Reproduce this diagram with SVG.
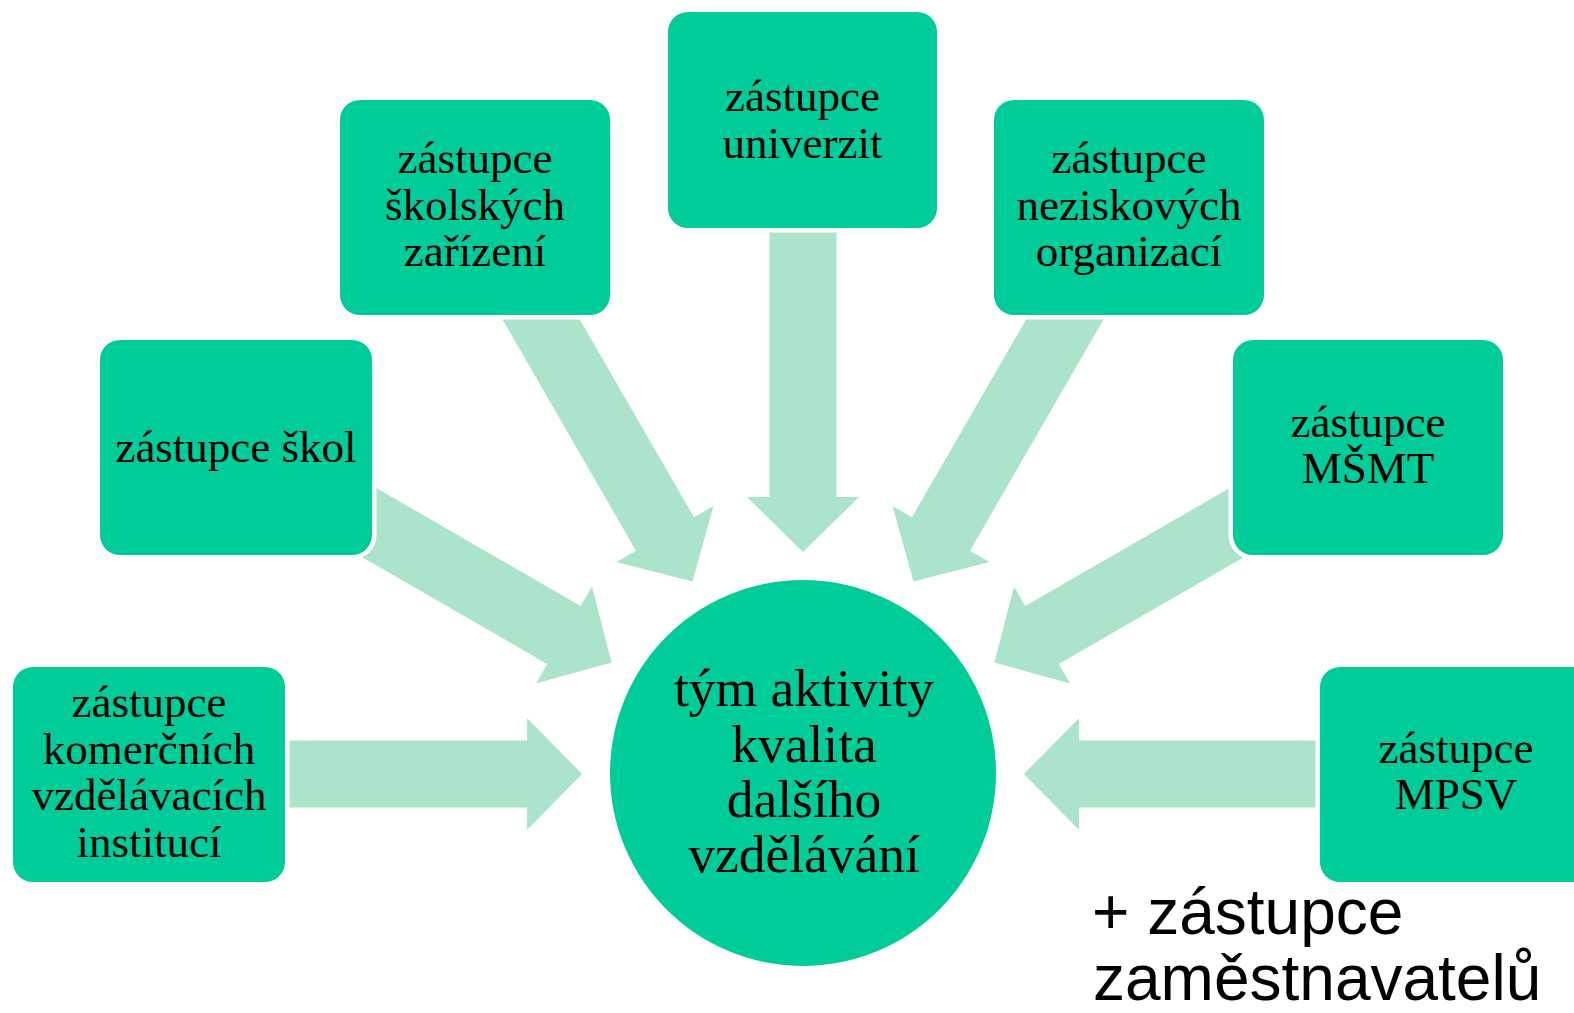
<svg xmlns="http://www.w3.org/2000/svg" width="1574" height="1013" viewBox="0 0 1574 1013">
<style>
.box{fill:#00CC99;stroke:#ffffff;stroke-width:9;paint-order:stroke}
.arr{fill:#ACE3CB}
.t{font-family:"Liberation Serif","Times New Roman",serif;font-size:45px;fill:#000;text-anchor:middle}
.tc{font-family:"Liberation Serif","Times New Roman",serif;font-size:53.5px;fill:#000;text-anchor:middle}
.ts{font-family:"Liberation Sans",Arial,sans-serif;font-size:64px;fill:#000}
</style>
<rect width="1574" height="1013" fill="#ffffff"/>
<g id="connectors">
<path class="arr" transform="translate(582,774) rotate(0)" d="M0,0 L-55,-56 L-55,-33.5 L-300,-33.5 L-300,33.5 L-55,33.5 L-55,56 Z"/>
<path class="arr" transform="translate(611.6,662.5) rotate(30)" d="M0,0 L-55,-56 L-55,-33.5 L-320,-33.5 L-320,33.5 L-55,33.5 L-55,56 Z"/>
<path class="arr" transform="translate(692.5,581.6) rotate(60)" d="M0,0 L-55,-56 L-55,-33.5 L-340,-33.5 L-340,33.5 L-55,33.5 L-55,56 Z"/>
<path class="arr" transform="translate(803,552) rotate(90)" d="M0,0 L-55,-56 L-55,-33.5 L-330,-33.5 L-330,33.5 L-55,33.5 L-55,56 Z"/>
<path class="arr" transform="translate(913.5,581.6) rotate(120)" d="M0,0 L-55,-56 L-55,-33.5 L-340,-33.5 L-340,33.5 L-55,33.5 L-55,56 Z"/>
<path class="arr" transform="translate(994.4,662.5) rotate(150)" d="M0,0 L-55,-56 L-55,-33.5 L-320,-33.5 L-320,33.5 L-55,33.5 L-55,56 Z"/>
<path class="arr" transform="translate(1024,774) rotate(180)" d="M0,0 L-55,-56 L-55,-33.5 L-300,-33.5 L-300,33.5 L-55,33.5 L-55,56 Z"/>
</g>
<g id="node-komercni">
<rect class="box" x="13" y="667" width="272" height="215" rx="20"/>
<text class="t" x="149" y="717">zástupce</text>
<text class="t" x="149" y="764">komerčních</text>
<text class="t" x="149" y="810">vzdělávacích</text>
<text class="t" x="149" y="857">institucí</text>
</g>
<g id="node-skol">
<rect class="box" x="100" y="340" width="272" height="215" rx="20"/>
<text class="t" x="236" y="462">zástupce škol</text>
</g>
<g id="node-skolskych">
<rect class="box" x="340" y="100" width="270" height="215" rx="20"/>
<text class="t" x="475" y="173">zástupce</text>
<text class="t" x="475" y="220">školských</text>
<text class="t" x="475" y="266">zařízení</text>
</g>
<g id="node-univerzit">
<rect class="box" x="668" y="12" width="269" height="216" rx="20"/>
<text class="t" x="802.5" y="111">zástupce</text>
<text class="t" x="802.5" y="158">univerzit</text>
</g>
<g id="node-neziskovych">
<rect class="box" x="994" y="100" width="270" height="215" rx="20"/>
<text class="t" x="1129" y="173">zástupce</text>
<text class="t" x="1129" y="220">neziskových</text>
<text class="t" x="1129" y="266">organizací</text>
</g>
<g id="node-msmt">
<rect class="box" x="1233" y="340" width="270" height="215" rx="20"/>
<text class="t" x="1368" y="437">zástupce</text>
<text class="t" x="1368" y="483">MŠMT</text>
</g>
<g id="node-mpsv">
<rect class="box" x="1320" y="667" width="272" height="215" rx="20"/>
<text class="t" x="1456" y="763">zástupce</text>
<text class="t" x="1456" y="809">MPSV</text>
</g>
<g id="node-center">
<circle cx="803" cy="773" r="193" fill="#00CC99"/>
<text class="tc" x="804" y="706">tým aktivity</text>
<text class="tc" x="804" y="762">kvalita</text>
<text class="tc" x="804" y="817">dalšího</text>
<text class="tc" x="804" y="872">vzdělávání</text>
</g>
<g id="note">
<text class="ts" x="1092" y="934">+ zástupce</text>
<text class="ts" x="1093" y="1000">zaměstnavatelů</text>
</g>
</svg>
